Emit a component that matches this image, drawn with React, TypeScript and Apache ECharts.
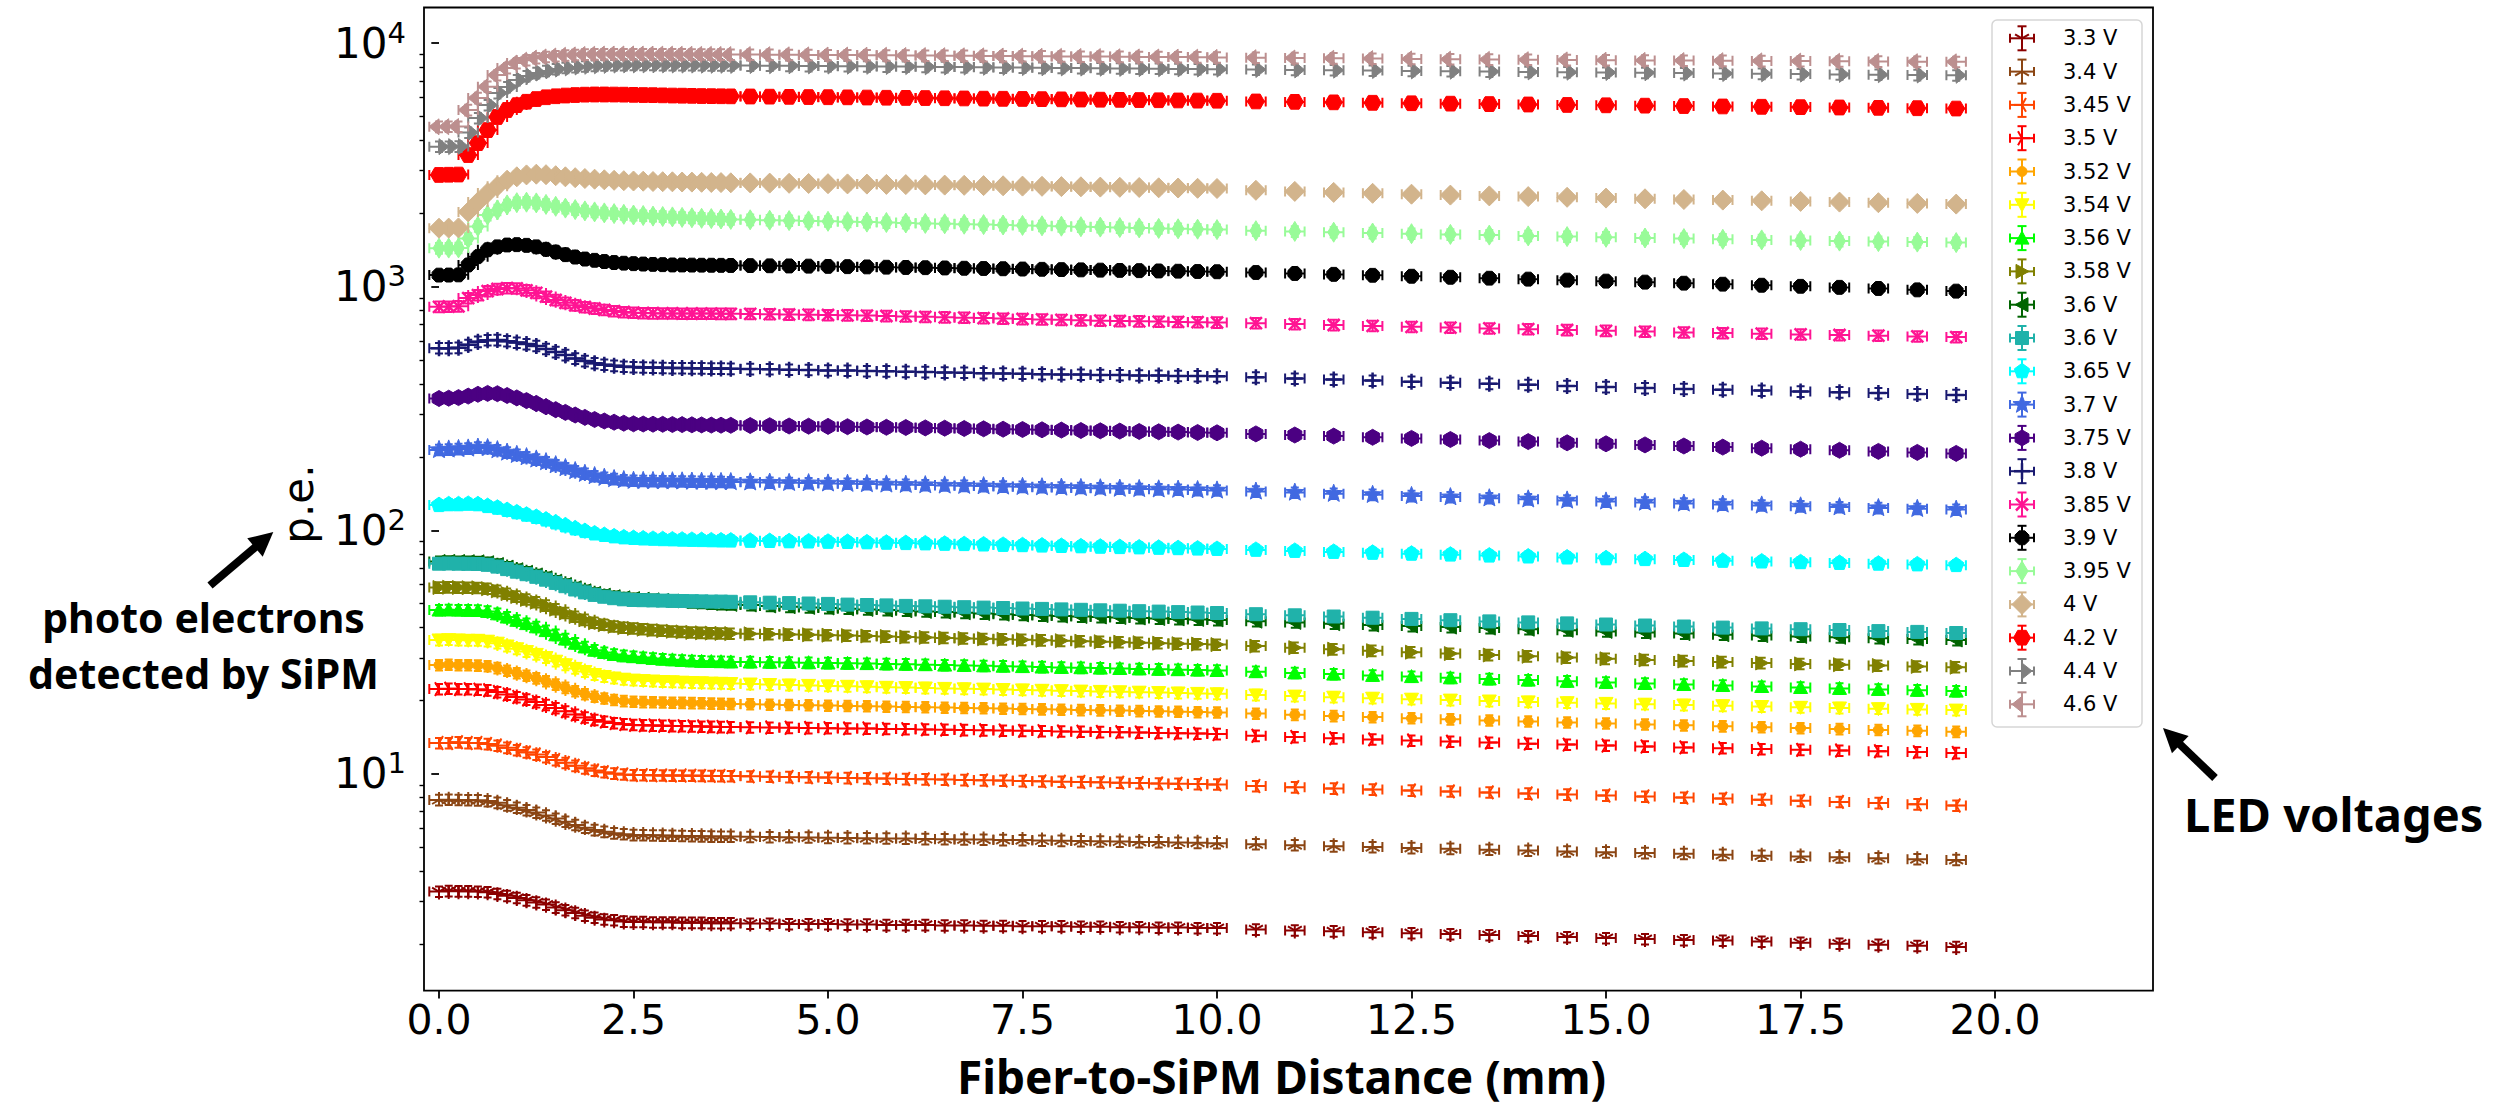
import React, { useEffect, useRef } from 'react';
import * as echarts from 'echarts';

// Fiber-to-SiPM distance (mm): fine scan, medium scan, coarse scan
const xFine = [0, 0.125, 0.25, 0.375, 0.5, 0.625, 0.75, 0.875, 1, 1.125, 1.25, 1.375, 1.5, 1.625, 1.75, 1.875, 2, 2.125, 2.25, 2.375, 2.5, 2.625, 2.75, 2.875, 3, 3.125, 3.25, 3.375, 3.5, 3.625, 3.75];
const xMedium = [4, 4.25, 4.5, 4.75, 5, 5.25, 5.5, 5.75, 6, 6.25, 6.5, 6.75, 7, 7.25, 7.5, 7.75, 8, 8.25, 8.5, 8.75, 9, 9.25, 9.5, 9.75, 10];
const xCoarse = [10.5, 11, 11.5, 12, 12.5, 13, 13.5, 14, 14.5, 15, 15.5, 16, 16.5, 17, 17.5, 18, 18.5, 19, 19.5];
const distance = [...xFine, ...xMedium, ...xCoarse];

// Mean photo-electron counts per LED voltage (same order as distance)
const pe_3_30 = [
  3.29, 3.31, 3.30, 3.30, 3.29, 3.27, 3.22, 3.16, 3.10, 3.03, 2.97, 2.91, 2.83, 2.76, 2.69, 2.62, 2.57, 2.53, 2.51, 2.48, 2.47, 2.47, 2.46, 2.46, 2.46, 2.45, 2.45, 2.45, 2.44, 2.44, 2.44,
  2.43, 2.43, 2.42, 2.42, 2.42, 2.41, 2.41, 2.40, 2.40, 2.40, 2.39, 2.39, 2.38, 2.38, 2.37, 2.37, 2.37, 2.36, 2.36, 2.35, 2.35, 2.34, 2.34, 2.33, 2.33,
  2.30, 2.28, 2.26, 2.24, 2.22, 2.20, 2.18, 2.16, 2.14, 2.12, 2.10, 2.08, 2.07, 2.05, 2.03, 2.01, 1.99, 1.97, 1.95,
];
const pe_3_40 = [
  7.82, 7.84, 7.83, 7.81, 7.80, 7.74, 7.62, 7.44, 7.27, 7.11, 6.94, 6.76, 6.56, 6.37, 6.18, 6.02, 5.89, 5.79, 5.71, 5.66, 5.62, 5.61, 5.60, 5.59, 5.58, 5.57, 5.56, 5.55, 5.54, 5.53, 5.53,
  5.52, 5.51, 5.50, 5.49, 5.47, 5.46, 5.45, 5.44, 5.43, 5.41, 5.40, 5.39, 5.38, 5.36, 5.35, 5.33, 5.32, 5.30, 5.29, 5.28, 5.26, 5.25, 5.23, 5.22, 5.20,
  5.15, 5.10, 5.05, 5.01, 4.97, 4.93, 4.89, 4.85, 4.81, 4.77, 4.74, 4.70, 4.66, 4.62, 4.58, 4.55, 4.51, 4.47, 4.44,
];
const pe_3_45 = [
  13.4, 13.4, 13.5, 13.4, 13.4, 13.28, 13.08, 12.81, 12.54, 12.27, 12.02, 11.73, 11.41, 11.11, 10.81, 10.55, 10.33, 10.17, 10.05, 9.96, 9.90, 9.89, 9.88, 9.87, 9.86, 9.85, 9.84, 9.83, 9.82, 9.81, 9.80,
  9.78, 9.75, 9.72, 9.69, 9.66, 9.63, 9.60, 9.57, 9.54, 9.51, 9.48, 9.45, 9.42, 9.39, 9.36, 9.33, 9.30, 9.27, 9.24, 9.21, 9.18, 9.15, 9.12, 9.09, 9.06,
  8.92, 8.82, 8.72, 8.64, 8.56, 8.48, 8.40, 8.32, 8.24, 8.16, 8.08, 8.00, 7.92, 7.84, 7.76, 7.68, 7.60, 7.51, 7.42,
];
const pe_3_50 = [
  22.3, 22.4, 22.3, 22.3, 22.2, 22.07, 21.70, 21.20, 20.70, 20.22, 19.74, 19.22, 18.64, 18.08, 17.54, 17.07, 16.67, 16.39, 16.17, 16.01, 15.90, 15.85, 15.82, 15.78, 15.75, 15.72, 15.69, 15.66, 15.63, 15.60, 15.57,
  15.54, 15.51, 15.48, 15.45, 15.42, 15.39, 15.36, 15.32, 15.28, 15.24, 15.20, 15.16, 15.12, 15.08, 15.04, 15.00, 14.96, 14.92, 14.88, 14.84, 14.80, 14.75, 14.70, 14.65, 14.60,
  14.35, 14.18, 14.02, 13.87, 13.72, 13.58, 13.45, 13.32, 13.20, 13.08, 12.97, 12.86, 12.76, 12.66, 12.57, 12.48, 12.40, 12.30, 12.20,
];
const pe_3_52 = [
  28.0, 28.1, 28.0, 28.0, 27.9, 27.71, 27.24, 26.58, 25.94, 25.32, 24.72, 24.04, 23.30, 22.59, 21.89, 21.29, 20.78, 20.43, 20.14, 19.94, 19.80, 19.76, 19.72, 19.68, 19.64, 19.60, 19.56, 19.52, 19.48, 19.44, 19.40,
  19.34, 19.28, 19.22, 19.16, 19.10, 19.04, 18.98, 18.92, 18.86, 18.80, 18.74, 18.68, 18.62, 18.56, 18.50, 18.44, 18.38, 18.32, 18.26, 18.20, 18.14, 18.08, 18.02, 17.96, 17.90,
  17.70, 17.50, 17.30, 17.12, 16.94, 16.77, 16.60, 16.44, 16.28, 16.13, 15.98, 15.84, 15.70, 15.56, 15.43, 15.30, 15.17, 15.04, 14.90,
];
const pe_3_54 = [
  35.5, 35.6, 35.5, 35.4, 35.4, 35.10, 34.44, 33.54, 32.66, 31.81, 30.97, 30.04, 29.04, 28.07, 27.13, 26.32, 25.62, 25.14, 24.77, 24.49, 24.30, 24.18, 24.08, 23.98, 23.90, 23.82, 23.75, 23.68, 23.62, 23.56, 23.50,
  23.40, 23.30, 23.20, 23.10, 23.00, 22.90, 22.80, 22.70, 22.62, 22.54, 22.46, 22.38, 22.30, 22.22, 22.14, 22.06, 21.98, 21.90, 21.82, 21.74, 21.66, 21.58, 21.50, 21.42, 21.34,
  21.10, 20.88, 20.67, 20.47, 20.28, 20.10, 19.93, 19.77, 19.62, 19.48, 19.34, 19.20, 19.06, 18.92, 18.79, 18.66, 18.54, 18.42, 18.30,
];
const pe_3_56 = [
  47.1, 47.2, 47.1, 47.0, 46.9, 46.48, 45.47, 44.09, 42.74, 41.44, 40.19, 38.79, 37.28, 35.82, 34.43, 33.24, 32.23, 31.52, 30.98, 30.57, 30.30, 30.05, 29.82, 29.60, 29.42, 29.26, 29.12, 29.02, 28.95, 28.90, 28.86,
  28.82, 28.76, 28.70, 28.62, 28.55, 28.48, 28.40, 28.30, 28.20, 28.10, 28.00, 27.90, 27.80, 27.70, 27.60, 27.50, 27.40, 27.30, 27.20, 27.10, 27.00, 26.90, 26.80, 26.70, 26.60,
  26.30, 26.00, 25.70, 25.40, 25.10, 24.82, 24.55, 24.28, 24.02, 23.77, 23.53, 23.30, 23.08, 22.86, 22.65, 22.45, 22.25, 22.06, 21.88,
];
const pe_3_58 = [
  58.3, 58.4, 58.3, 58.2, 58.1, 57.63, 56.52, 55.02, 53.54, 52.11, 50.72, 49.18, 47.49, 45.86, 44.30, 42.96, 41.80, 41.00, 40.38, 39.91, 39.60, 39.30, 39.02, 38.76, 38.52, 38.30, 38.12, 37.98, 37.86, 37.78, 37.70,
  37.62, 37.52, 37.40, 37.28, 37.14, 37.00, 36.84, 36.68, 36.52, 36.36, 36.20, 36.04, 35.88, 35.72, 35.56, 35.40, 35.24, 35.08, 34.92, 34.76, 34.60, 34.44, 34.28, 34.12, 33.96,
  33.50, 33.00, 32.52, 32.06, 31.62, 31.20, 30.80, 30.42, 30.06, 29.72, 29.40, 29.10, 28.82, 28.56, 28.32, 28.10, 27.88, 27.66, 27.44,
];
const pe_3_60a = [
  74.5, 74.6, 74.5, 74.4, 74.3, 73.72, 72.44, 70.69, 68.98, 67.31, 65.68, 63.88, 61.89, 59.96, 58.11, 56.50, 55.14, 54.18, 53.42, 52.87, 52.50, 52.2, 51.9, 51.6, 51.3, 51.0, 50.7, 50.4, 50.1, 49.9, 49.7,
  49.4, 49.0, 48.6, 48.3, 48.0, 47.7, 47.4, 47.1, 46.8, 46.5, 46.2, 45.9, 45.6, 45.3, 45.0, 44.7, 44.5, 44.3, 44.1, 43.9, 43.7, 43.5, 43.3, 43.1, 42.9,
  42.4, 41.9, 41.4, 40.9, 40.5, 40.1, 39.7, 39.3, 38.9, 38.5, 38.1, 37.7, 37.3, 37.0, 36.7, 36.4, 36.1, 35.8, 35.5,
];
const pe_3_60b = [
  73.0, 73.1, 73.0, 72.9, 72.8, 72.26, 71.02, 69.34, 67.69, 66.09, 64.52, 62.77, 60.86, 59.00, 57.22, 55.66, 54.34, 53.41, 52.68, 52.16, 51.80, 51.7, 51.6, 51.5, 51.4, 51.3, 51.2, 51.1, 51.0, 51.0, 50.9,
  50.7, 50.5, 50.3, 50.1, 49.9, 49.6, 49.4, 49.2, 49.0, 48.8, 48.6, 48.4, 48.2, 48.0, 47.8, 47.6, 47.4, 47.2, 47.0, 46.8, 46.6, 46.4, 46.2, 46.0, 45.8,
  45.3, 44.8, 44.3, 43.8, 43.3, 42.8, 42.3, 41.9, 41.5, 41.1, 40.7, 40.3, 39.9, 39.6, 39.3, 39.0, 38.6, 38.3, 37.9,
];
const pe_3_65 = [
  127, 128, 128, 128.5, 128, 125.8, 123.9, 121.2, 118.6, 116.0, 113.5, 110.7, 107.7, 104.7, 101.8, 99.3, 97.1, 95.7, 94.5, 93.6, 93.0, 92.6, 92.3, 92.0, 91.8, 91.6, 91.4, 91.2, 91.0, 90.9, 90.8,
  90.6, 90.4, 90.2, 90.0, 89.8, 89.6, 89.3, 89.0, 88.7, 88.4, 88.1, 87.8, 87.5, 87.2, 86.9, 86.6, 86.3, 86.0, 85.7, 85.4, 85.1, 84.8, 84.5, 84.2, 83.9,
  83.2, 82.4, 81.6, 80.9, 80.2, 79.5, 78.8, 78.1, 77.4, 76.8, 76.2, 75.6, 75.0, 74.5, 74.0, 73.5, 73.0, 72.5, 72.0,
];
const pe_3_70 = [
  214, 215, 216, 217, 219, 218, 213.6, 208.9, 204.4, 199.9, 195.6, 190.7, 185.4, 180.3, 175.3, 170.9, 167.2, 164.6, 162.6, 161.0, 160.0, 159.8, 159.6, 159.4, 159.2, 159.0, 158.8, 158.6, 158.4, 158.2, 158.0,
  157.6, 157.2, 156.8, 156.4, 156.0, 155.5, 155.0, 154.5, 154.0, 153.5, 153.0, 152.5, 152.0, 151.5, 151.0, 150.5, 150.0, 149.5, 149.0, 148.5, 148.0, 147.5, 147.0, 146.5, 146.0,
  144.5, 143.0, 141.5, 140.0, 138.5, 137.0, 135.6, 134.2, 132.8, 131.5, 130.2, 129.0, 127.8, 126.7, 125.6, 124.6, 123.6, 122.6, 121.7,
];
const pe_3_75 = [
  348, 349, 351, 356, 362, 365, 364, 358, 350, 341, 332, 322, 313, 305, 297.8, 291.0, 285.2, 281.2, 278.0, 275.6, 274.0, 273.5, 273.0, 272.6, 272.2, 271.8, 271.4, 271.0, 270.7, 270.4, 270.1,
  269.6, 269.0, 268.4, 267.8, 267.2, 266.5, 265.8, 265.1, 264.4, 263.6, 262.8, 262.0, 261.2, 260.4, 259.6, 258.8, 258.0, 257.2, 256.4, 255.6, 254.8, 254.0, 253.2, 252.4, 251.6,
  249.0, 246.4, 243.8, 241.2, 238.7, 236.2, 233.8, 231.4, 229.0, 226.7, 224.4, 222.1, 219.8, 217.6, 215.4, 213.2, 211.1, 209.0, 207.0,
];
const pe_3_80 = [
  560, 560, 562, 578, 595, 604, 605, 598, 590, 582, 572, 556, 540, 525, 508, 496, 486, 479, 474, 470, 468, 467, 466, 465, 464, 464, 463, 463, 462, 462, 461,
  460, 459, 457, 456, 454, 453, 451, 450, 448, 447, 445, 444, 442, 441, 440, 438, 437, 436, 435, 434, 433, 432, 431, 430, 429,
  425, 420, 416, 412, 408, 404, 400, 396, 392, 388, 384, 381, 378, 375, 372, 369, 366, 363, 360,
];
const pe_3_85 = [
  828, 830, 832, 899, 925, 960, 980, 988, 985, 968, 944, 912, 883, 860, 840, 826, 815, 804, 795, 788, 783, 780, 779, 778, 778, 777, 777, 776, 776, 775, 775,
  774, 772, 770, 768, 766, 764, 762, 759, 756, 753, 750, 747, 744, 741, 738, 735, 732, 729, 726, 724, 722, 720, 718, 716, 714,
  709, 703, 697, 691, 685, 680, 675, 670, 665, 660, 655, 650, 646, 642, 638, 634, 630, 626, 622,
];
const pe_3_90 = [
  1117, 1118, 1120, 1230, 1330, 1420, 1460, 1485, 1490, 1480, 1460, 1425, 1390, 1355, 1325, 1300, 1285, 1270, 1258, 1250, 1245, 1240, 1236, 1233, 1230, 1229, 1228, 1227, 1226, 1225, 1224,
  1222, 1220, 1218, 1216, 1213, 1210, 1207, 1204, 1201, 1198, 1195, 1192, 1189, 1186, 1183, 1180, 1177, 1174, 1171, 1168, 1165, 1162, 1159, 1156, 1153,
  1145, 1135, 1125, 1115, 1105, 1095, 1085, 1075, 1065, 1055, 1045, 1035, 1025, 1015, 1005, 995, 985, 972, 960,
];
const pe_3_95 = [
  1440, 1442, 1445, 1580, 1770, 1970, 2070, 2170, 2215, 2225, 2210, 2180, 2140, 2105, 2075, 2050, 2030, 2012, 1998, 1985, 1972, 1962, 1952, 1944, 1936, 1928, 1920, 1912, 1905, 1898, 1892,
  1885, 1878, 1871, 1864, 1857, 1850, 1843, 1836, 1829, 1822, 1815, 1808, 1801, 1794, 1787, 1780, 1773, 1766, 1759, 1752, 1745, 1738, 1731, 1724, 1717,
  1700, 1688, 1676, 1664, 1652, 1641, 1630, 1619, 1608, 1597, 1587, 1577, 1567, 1558, 1549, 1541, 1533, 1526, 1519,
];
const pe_4_00 = [
  1740, 1742, 1745, 2030, 2230, 2430, 2590, 2740, 2830, 2880, 2900, 2885, 2860, 2830, 2805, 2785, 2765, 2750, 2738, 2728, 2720, 2713, 2707, 2702, 2698, 2694, 2690, 2686, 2682, 2678, 2674,
  2670, 2665, 2660, 2655, 2650, 2645, 2640, 2634, 2628, 2622, 2616, 2610, 2604, 2598, 2592, 2586, 2580, 2574, 2568, 2562, 2556, 2550, 2544, 2538, 2532,
  2490, 2465, 2442, 2420, 2400, 2381, 2363, 2346, 2330, 2314, 2299, 2284, 2270, 2256, 2242, 2228, 2214, 2200, 2186,
];
const pe_4_20 = [
  2880, 2885, 2890, 3475, 3890, 4400, 4980, 5320, 5570, 5750, 5900, 6000, 6060, 6100, 6130, 6150, 6160, 6160, 6155, 6150, 6140, 6130, 6120, 6110, 6100, 6090, 6080, 6070, 6065, 6060, 6055,
  6045, 6035, 6025, 6015, 6005, 5995, 5985, 5975, 5965, 5955, 5945, 5935, 5925, 5915, 5905, 5895, 5885, 5875, 5865, 5855, 5845, 5835, 5825, 5815, 5805,
  5770, 5745, 5720, 5695, 5670, 5648, 5626, 5604, 5582, 5562, 5542, 5522, 5502, 5484, 5466, 5448, 5430, 5412, 5395,
];
const pe_4_40 = [
  3760, 3765, 3770, 4300, 4930, 5570, 6240, 6610, 7060, 7330, 7550, 7700, 7830, 7920, 7990, 8040, 8080, 8110, 8130, 8145, 8150, 8150, 8148, 8145, 8140, 8135, 8130, 8125, 8120, 8115, 8110,
  8100, 8090, 8080, 8070, 8060, 8050, 8040, 8028, 8016, 8004, 7992, 7980, 7968, 7956, 7944, 7932, 7920, 7908, 7896, 7884, 7872, 7860, 7848, 7836, 7824,
  7800, 7775, 7750, 7725, 7700, 7676, 7652, 7628, 7604, 7582, 7560, 7538, 7516, 7494, 7472, 7450, 7428, 7406, 7385,
];
const pe_4_60 = [
  4540, 4545, 4550, 5320, 5960, 6630, 7400, 7910, 8290, 8520, 8690, 8790, 8860, 8920, 8960, 8990, 9010, 9025, 9030, 9030, 9030, 9028, 9025, 9020, 9015, 9010, 9005, 9000, 8995, 8990, 8985,
  8978, 8970, 8962, 8954, 8946, 8938, 8930, 8920, 8910, 8900, 8890, 8880, 8870, 8860, 8850, 8840, 8830, 8820, 8810, 8800, 8790, 8780, 8770, 8760, 8750,
  8725, 8700, 8675, 8650, 8625, 8600, 8580, 8560, 8540, 8520, 8505, 8490, 8475, 8460, 8445, 8430, 8415, 8400, 8390,
];

const voltageLabels = ['3.3 V', '3.4 V', '3.45 V', '3.5 V', '3.52 V', '3.54 V', '3.56 V', '3.58 V', '3.6 V', '3.6 V', '3.65 V', '3.7 V', '3.75 V', '3.8 V', '3.85 V', '3.9 V', '3.95 V', '4 V', '4.2 V', '4.4 V', '4.6 V'];
const peSeries = [pe_3_30, pe_3_40, pe_3_45, pe_3_50, pe_3_52, pe_3_54, pe_3_56, pe_3_58, pe_3_60a, pe_3_60b, pe_3_65, pe_3_70, pe_3_75, pe_3_80, pe_3_85, pe_3_90, pe_3_95, pe_4_00, pe_4_20, pe_4_40, pe_4_60];
const seriesColors = ['#8b0000', '#8b4513', '#ff4500', '#ff0000', '#ffa500', '#ffff00', '#00ff00', '#808000', '#006400', '#20b2aa', '#00ffff', '#4169e1', '#4b0082', '#191970', '#ff1493', '#000000', '#98fb98', '#d2b48c', '#ff0000', '#808080', '#bc8f8f'];
const markerKinds = ['tri_down', 'tri_up', 'tri_left', 'tri_right', 'dot', 'v', '^', '>', '<', 's', 'p', '*', 'h', '+', 'x', '8', 'd', 'D', 'H', 'caret_right', 'caret_left'];

const xTicks = [0, 2.5, 5, 7.5, 10, 12.5, 15, 17.5, 20];
const yMajorTicks = [10, 100, 1000, 10000];
const yMinorTicks = [2, 3, 4, 5, 6, 7, 8, 9, 20, 30, 40, 50, 60, 70, 80, 90, 200, 300, 400, 500, 600, 700, 800, 900, 2000, 3000, 4000, 5000, 6000, 7000, 8000, 9000];

// Measurement uncertainties drawn as error bars
const X_ERR = 0.125; // mm
const Y_ERR_REL = 0.05;

// ---- marker shapes (pixel offsets, y pointing down) ----
type MarkerDef = { polys: number[][][]; filled: boolean; lw: number };

function ngon(n: number, r: number, startDeg: number): number[][] {
  const pts: number[][] = [];
  for (let k = 0; k < n; k++) {
    const a = ((startDeg + (360 * k) / n) * Math.PI) / 180;
    pts.push([r * Math.cos(a), r * Math.sin(a)]);
  }
  return pts;
}
function starPts(ro: number, ri: number): number[][] {
  const pts: number[][] = [];
  for (let k = 0; k < 10; k++) {
    const a = ((-90 + 36 * k) * Math.PI) / 180;
    const r = k % 2 === 0 ? ro : ri;
    pts.push([r * Math.cos(a), r * Math.sin(a)]);
  }
  return pts;
}
function spokes(r: number, degs: number[]): number[][][] {
  return degs.map((d) => {
    const a = (d * Math.PI) / 180;
    return [[0, 0], [r * Math.cos(a), r * Math.sin(a)]];
  });
}

const MARKERS: Record<string, MarkerDef> = {
  tri_down: { polys: spokes(8, [90, 210, 330]), filled: false, lw: 2 },
  tri_up: { polys: spokes(8, [-90, 30, 150]), filled: false, lw: 2 },
  tri_left: { polys: spokes(8, [180, -60, 60]), filled: false, lw: 2 },
  tri_right: { polys: spokes(8, [0, 120, 240]), filled: false, lw: 2 },
  dot: { polys: [ngon(16, 5, 0)], filled: true, lw: 1 },
  v: { polys: [[[0, 7], [-7, -6], [7, -6]]], filled: true, lw: 1 },
  '^': { polys: [[[0, -7], [-7, 6], [7, 6]]], filled: true, lw: 1 },
  '>': { polys: [[[7, 0], [-6, -7], [-6, 7]]], filled: true, lw: 1 },
  '<': { polys: [[[-7, 0], [6, -7], [6, 7]]], filled: true, lw: 1 },
  s: { polys: [[[-6.5, -6.5], [6.5, -6.5], [6.5, 6.5], [-6.5, 6.5]]], filled: true, lw: 1 },
  p: { polys: [ngon(5, 8, -90)], filled: true, lw: 1 },
  '*': { polys: [starPts(9.5, 4)], filled: true, lw: 1 },
  h: { polys: [ngon(6, 8, -90)], filled: true, lw: 1 },
  '+': { polys: [[[-8, 0], [8, 0]], [[0, -8], [0, 8]]], filled: false, lw: 2.5 },
  x: { polys: [[[-6, -6], [6, 6]], [[-6, 6], [6, -6]]], filled: false, lw: 2.5 },
  '8': { polys: [ngon(8, 7.5, 22.5)], filled: true, lw: 1 },
  d: { polys: [[[0, -10], [6, 0], [0, 10], [-6, 0]]], filled: true, lw: 1 },
  D: { polys: [[[0, -10], [10, 0], [0, 10], [-10, 0]]], filled: true, lw: 1 },
  H: { polys: [ngon(6, 8.5, 0)], filled: true, lw: 1 },
  caret_right: { polys: [[[0, -8], [10, 0], [0, 8]]], filled: true, lw: 1 },
  caret_left: { polys: [[[0, -8], [-10, 0], [0, 8]]], filled: true, lw: 1 },
};

const f1 = (n: number) => n.toFixed(1);

function markerPath(def: MarkerDef, cx: number, cy: number): string {
  return def.polys
    .map((p) => 'M' + p.map(([x, y]) => f1(cx + x) + ',' + f1(cy + y)).join('L') + (def.filled ? 'Z' : ''))
    .join('');
}

function makeSeries(idx: number) {
  const color = seriesColors[idx];
  const def = MARKERS[markerKinds[idx]];
  const vals = peSeries[idx];
  const CAP = 5;
  const CAP_V = 4;
  return {
    type: 'custom',
    name: voltageLabels[idx],
    coordinateSystem: 'cartesian2d',
    silent: true,
    clip: false,
    data: distance.map((x, i) => [x, vals[i]]),
    encode: { x: 0, y: 1 },
    renderItem: (_params: any, api: any) => {
      const x = api.value(0);
      const y = api.value(1);
      const c = api.coord([x, y]);
      const cx = c[0];
      const cy = c[1];
      const xl = api.coord([x - X_ERR, y])[0];
      const xr = api.coord([x + X_ERR, y])[0];
      const yt = api.coord([x, y * (1 + Y_ERR_REL)])[1];
      const yb = api.coord([x, y * (1 - Y_ERR_REL)])[1];
      const eb =
        `M${f1(xl)},${f1(cy)}L${f1(xr)},${f1(cy)}` +
        `M${f1(xl)},${f1(cy - CAP)}L${f1(xl)},${f1(cy + CAP)}` +
        `M${f1(xr)},${f1(cy - CAP)}L${f1(xr)},${f1(cy + CAP)}` +
        `M${f1(cx)},${f1(yt)}L${f1(cx)},${f1(yb)}` +
        `M${f1(cx - CAP_V)},${f1(yt)}L${f1(cx + CAP_V)},${f1(yt)}` +
        `M${f1(cx - CAP_V)},${f1(yb)}L${f1(cx + CAP_V)},${f1(yb)}`;
      return {
        type: 'group',
        children: [
          { type: 'path', shape: { pathData: eb }, style: { fill: 'none', stroke: color, lineWidth: 2 } },
          {
            type: 'path',
            shape: { pathData: markerPath(def, cx, cy) },
            style: def.filled
              ? { fill: color, stroke: color, lineWidth: 1 }
              : { fill: 'none', stroke: color, lineWidth: def.lw },
          },
        ],
      };
    },
  };
}

// ---- legend drawn with graphic elements ----
function legendIconEls(idx: number, cx: number, cy: number, z: number): any[] {
  const color = seriesColors[idx];
  const def = MARKERS[markerKinds[idx]];
  const A = 12;
  const C = 4.5;
  const seg = (x1: number, y1: number, x2: number, y2: number) => ({
    type: 'line',
    z,
    shape: { x1: cx + x1, y1: cy + y1, x2: cx + x2, y2: cy + y2 },
    style: { stroke: color, lineWidth: 2 },
  });
  const els: any[] = [
    seg(-A, 0, A, 0), seg(-A, -C, -A, C), seg(A, -C, A, C),
    seg(0, -A, 0, A), seg(-C, -A, C, -A), seg(-C, A, C, A),
  ];
  def.polys.forEach((p) => {
    const pts = p.map(([x, y]) => [cx + x, cy + y]);
    els.push(
      def.filled
        ? { type: 'polygon', z, shape: { points: pts }, style: { fill: color, stroke: color, lineWidth: 1 } }
        : { type: 'polyline', z, shape: { points: pts }, style: { fill: 'none', stroke: color, lineWidth: def.lw } }
    );
  });
  return els;
}

function arrow(tail: number[], tip: number[]) {
  const dx = tip[0] - tail[0];
  const dy = tip[1] - tail[1];
  const len = Math.hypot(dx, dy);
  const ux = dx / len;
  const uy = dy / len;
  const hl = 24;
  const hw = 12;
  const bx = tip[0] - ux * hl;
  const by = tip[1] - uy * hl;
  return [
    { type: 'line', shape: { x1: tail[0], y1: tail[1], x2: bx + ux * 3, y2: by + uy * 3 }, style: { stroke: '#000', lineWidth: 8 }, z: 100 },
    { type: 'polygon', shape: { points: [tip, [bx - uy * hw, by + ux * hw], [bx + uy * hw, by - ux * hw]] }, style: { fill: '#000' }, z: 100 },
  ];
}

function buildOption(): any {
  const legendEls: any[] = [
    {
      type: 'rect',
      shape: { x: 1992, y: 20, width: 150, height: 707, r: 5 },
      style: { fill: 'rgba(255,255,255,0.8)', stroke: '#d6d6d6', lineWidth: 1.5 },
      z: 50,
    },
  ];
  voltageLabels.forEach((label, i) => {
    const cy = 38.3 + 33.3 * i;
    legendEls.push(...legendIconEls(i, 2022, cy, 60));
    legendEls.push({
      type: 'text',
      x: 2063,
      y: cy,
      z: 60,
      style: { text: label, fontFamily: 'DejaVu Sans', fontSize: 21, fill: '#000', align: 'left', verticalAlign: 'middle' },
    });
  });

  const boldFont = { fontFamily: 'Noto Sans', fontWeight: 'bold', fill: '#000' };
  const annotationEls: any[] = [
    {
      type: 'text', x: 203.5, y: 617, z: 100,
      style: { ...boldFont, text: 'photo electrons', fontSize: 41, align: 'center', verticalAlign: 'middle' },
    },
    {
      type: 'text', x: 203.5, y: 673, z: 100,
      style: { ...boldFont, text: 'detected by SiPM', fontSize: 41, align: 'center', verticalAlign: 'middle' },
    },
    {
      type: 'text', x: 2184, y: 814, z: 100,
      style: { ...boldFont, text: 'LED voltages', fontSize: 47, align: 'left', verticalAlign: 'middle' },
    },
    ...arrow([210, 585.5], [273.3, 532]),
    ...arrow([2215, 778], [2163, 728]),
  ];

  const Y_MIN = 1.289;
  const Y_MAX = 14020;

  return {
    animation: false,
    backgroundColor: '#ffffff',
    grid: {
      left: 424,
      right: 343,
      top: 7.5,
      bottom: 116.3,
      containLabel: false,
      outerBoundsMode: 'none',
      show: true,
      borderColor: '#000',
      borderWidth: 1.8,
      backgroundColor: 'transparent',
    },
    xAxis: {
      type: 'value',
      min: -0.193,
      max: 22.03,
      axisLine: { show: false },
      splitLine: { show: false },
      axisTick: { show: true, inside: false, length: 7.7, customValues: xTicks, lineStyle: { color: '#000', width: 1.8 } },
      axisLabel: {
        customValues: xTicks,
        formatter: (v: number) => v.toFixed(1),
        fontFamily: 'DejaVu Sans',
        fontSize: 41,
        lineHeight: 41,
        color: '#000',
        margin: 9,
      },
      name: 'Fiber-to-SiPM Distance (mm)',
      nameLocation: 'middle',
      nameGap: 62.5,
      nameTextStyle: { fontFamily: 'Noto Sans', fontWeight: 'bold', fontSize: 46, lineHeight: 46, color: '#000', padding: [0, 14, 0, 0] },
    },
    yAxis: [
      {
        type: 'log',
        logBase: 10,
        min: Y_MIN,
        max: Y_MAX,
        axisLine: { show: false },
        splitLine: { show: false },
        axisTick: { show: true, inside: false, length: 7.7, customValues: yMajorTicks, lineStyle: { color: '#000', width: 1.8 } },
        axisLabel: {
          customValues: yMajorTicks,
          formatter: (v: number) => `{b|10}{s|${Math.round(Math.log10(v))}}`,
          margin: 18,
          color: '#000',
          rich: {
            b: { fontFamily: 'DejaVu Sans', fontSize: 42, lineHeight: 42, color: '#000' },
            s: { fontFamily: 'DejaVu Sans', fontSize: 29, lineHeight: 29, color: '#000', padding: [0, 0, 21, 0] },
          },
        },
        name: 'p.e.',
        nameLocation: 'middle',
        nameRotate: 90,
        nameGap: 105,
        nameTextStyle: { fontFamily: 'DejaVu Sans', fontSize: 42, color: '#000', padding: [0, 10, 0, 0] },
      },
      {
        type: 'log',
        logBase: 10,
        min: Y_MIN,
        max: Y_MAX,
        position: 'left',
        axisLine: { show: false },
        splitLine: { show: false },
        axisLabel: { show: false },
        axisTick: { show: true, inside: false, length: 4.5, customValues: yMinorTicks, lineStyle: { color: '#000', width: 1.4 } },
      },
    ],
    series: voltageLabels.map((_, i) => makeSeries(i)),
    graphic: { elements: [...legendEls, ...annotationEls] },
  };
}

export default function App() {
  const ref = useRef<HTMLDivElement>(null);
  useEffect(() => {
    if (!ref.current) return;
    const chart = echarts.init(ref.current, undefined, { renderer: 'svg' });
    chart.setOption(buildOption());
    return () => {
      chart.dispose();
    };
  }, []);
  return (
    <div
      ref={ref}
      style={{ position: 'fixed', left: 0, top: 0, width: '2496px', height: '1107px', background: '#fff' }}
    />
  );
}
